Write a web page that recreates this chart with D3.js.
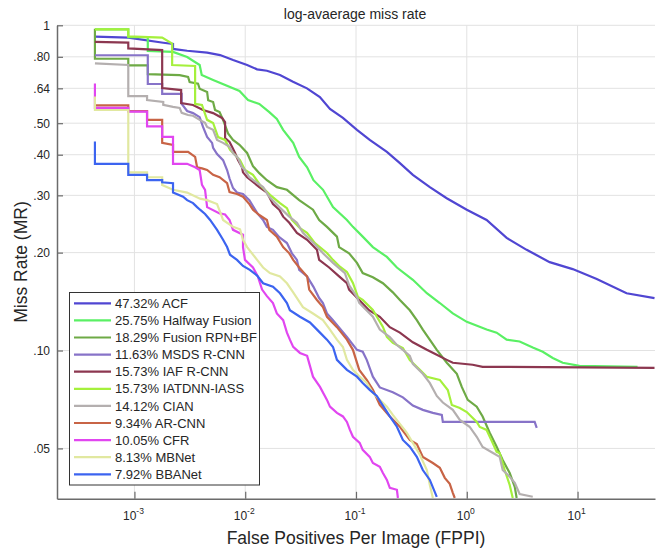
<!DOCTYPE html>
<html>
<head>
<meta charset="utf-8">
<script src="https://cdn.jsdelivr.net/npm/d3@7"></script>
<style>
    body { margin: 0; background: #fff; }
    text { font-family: "Liberation Sans", Arial, sans-serif; fill: #262626; }
</style>
</head>
<body>
<script>
"use strict";

// method names and their log-average miss rates (%)
var methods = ["ACF", "Halfway Fusion", "Fusion RPN+BF", "MSDS R-CNN", "IAF R-CNN",
    "IATDNN-IASS", "CIAN", "AR-CNN", "CFR", "MBNet", "BBANet"];
var logAvgMR = [47.32, 25.75, 18.29, 11.63, 15.73, 15.73, 14.12, 9.34, 10.05, 8.13, 7.92];

var yTicks = [0.05, 0.10, 0.20, 0.30, 0.40, 0.50, 0.64, 0.80, 1];
var yTickLabels = [".05", ".10", ".20", ".30", ".40", ".50", ".64", ".80", "1"];
var xTicks = [1e-3, 1e-2, 1e-1, 1, 10];
var xTickExps = ["-3", "-2", "-1", "0", "1"];

// [FPPI, miss rate]
var acf = [[0.00044,0.923],[0.00088,0.916],[0.00182,0.884],[0.00223,0.876],[0.00223,0.846],[0.00299,0.835],[0.00453,0.824],[0.00593,0.81],[0.00777,0.782],[0.0104,0.755],[0.0128,0.732],[0.0157,0.725],[0.0206,0.703],[0.027,0.671],[0.0361,0.64],[0.0472,0.602],[0.0582,0.553],[0.0762,0.519],[0.102,0.477],[0.133,0.444],[0.19,0.408],[0.249,0.377],[0.326,0.347],[0.464,0.318],[0.659,0.294],[1.0,0.271],[1.51,0.252],[2.29,0.222],[3.47,0.204],[5.6,0.187],[9.03,0.178],[14.9,0.166],[27.7,0.15],[49.5,0.145]];
var halfway = [[0.00044,0.971],[0.00088,0.971],[0.00088,0.92],[0.00132,0.92],[0.00132,0.834],[0.00223,0.828],[0.00299,0.799],[0.00388,0.755],[0.00405,0.703],[0.00513,0.679],[0.00888,0.628],[0.0106,0.589],[0.0134,0.573],[0.0165,0.541],[0.0193,0.515],[0.022,0.477],[0.0271,0.435],[0.0307,0.394],[0.0362,0.366],[0.0413,0.334],[0.0504,0.312],[0.062,0.276],[0.0828,0.252],[0.0938,0.24],[0.115,0.224],[0.142,0.208],[0.19,0.194],[0.234,0.18],[0.326,0.165],[0.436,0.15],[0.571,0.14],[0.748,0.13],[1.0,0.1225],[1.51,0.116],[1.86,0.1135],[2.29,0.108],[3.0,0.1066],[3.94,0.1021],[4.85,0.0991],[5.97,0.0949],[7.34,0.0917],[10.4,0.0897],[34.8,0.0891]];
var fusionRpn = [[0.00044,0.976],[0.00044,0.789],[0.00088,0.789],[0.00088,0.753],[0.00132,0.753],[0.00132,0.708],[0.00182,0.705],[0.00256,0.703],[0.00305,0.694],[0.00315,0.669],[0.00375,0.661],[0.00388,0.638],[0.00453,0.624],[0.00463,0.588],[0.00513,0.581],[0.00534,0.549],[0.00587,0.541],[0.00631,0.512],[0.007,0.465],[0.00776,0.444],[0.00888,0.429],[0.0104,0.405],[0.01175,0.369],[0.0134,0.351],[0.0157,0.334],[0.0193,0.318],[0.0238,0.312],[0.0307,0.29],[0.0409,0.271],[0.0465,0.252],[0.0547,0.24],[0.0673,0.224],[0.0704,0.208],[0.0866,0.199],[0.102,0.186],[0.115,0.173],[0.142,0.168],[0.175,0.161],[0.215,0.151],[0.249,0.143],[0.306,0.133],[0.354,0.124],[0.401,0.116],[0.463,0.108],[0.536,0.1005],[0.66,0.0917],[0.813,0.0848],[0.901,0.0773],[1.02,0.0705],[1.23,0.0672],[1.39,0.0627],[1.61,0.0559],[1.86,0.0506],[2.11,0.0461],[2.44,0.042],[2.71,0.0381],[2.82,0.0352]];
var msds = [[0.00044,0.809],[0.00132,0.809],[0.00132,0.66],[0.00178,0.66],[0.00178,0.615],[0.00267,0.615],[0.00267,0.573],[0.00299,0.545],[0.00338,0.537],[0.00388,0.522],[0.00416,0.487],[0.00453,0.454],[0.00502,0.435],[0.00513,0.42],[0.00557,0.402],[0.00631,0.385],[0.00686,0.359],[0.00722,0.338],[0.00776,0.316],[0.00843,0.306],[0.00955,0.303],[0.0109,0.29],[0.0128,0.265],[0.0145,0.252],[0.0157,0.24],[0.0178,0.235],[0.0203,0.223],[0.0238,0.214],[0.0264,0.199],[0.0293,0.19],[0.0307,0.177],[0.0362,0.169],[0.0413,0.157],[0.0465,0.145],[0.0503,0.14],[0.0547,0.13],[0.062,0.124],[0.0828,0.11],[0.102,0.1005],[0.115,0.0992],[0.125,0.0936],[0.142,0.0831],[0.164,0.077],[0.215,0.0744],[0.265,0.0718],[0.326,0.0677],[0.401,0.0657],[0.494,0.0643],[0.595,0.0634],[0.608,0.0603],[4.1,0.0603],[4.28,0.0578]];
var iaf = [[0.00044,0.889],[0.00088,0.885],[0.00088,0.849],[0.00178,0.839],[0.00178,0.641],[0.00264,0.632],[0.00264,0.577],[0.00338,0.569],[0.00416,0.549],[0.00513,0.537],[0.00618,0.519],[0.00658,0.504],[0.00658,0.45],[0.00722,0.438],[0.0076,0.423],[0.0081,0.405],[0.00861,0.385],[0.00935,0.366],[0.00955,0.353],[0.0104,0.341],[0.0134,0.318],[0.0157,0.306],[0.0178,0.282],[0.0203,0.271],[0.022,0.258],[0.025,0.247],[0.0293,0.23],[0.0362,0.219],[0.0444,0.204],[0.0465,0.19],[0.0572,0.18],[0.0704,0.169],[0.0828,0.161],[0.0866,0.154],[0.107,0.143],[0.131,0.133],[0.164,0.127],[0.202,0.118],[0.249,0.1135],[0.326,0.106],[0.436,0.1005],[0.536,0.097],[0.66,0.0936],[0.748,0.0917],[1.13,0.0904],[1.39,0.0891],[49.5,0.0885]];
var iatdnn = [[0.00044,0.972],[0.00088,0.972],[0.00088,0.924],[0.00178,0.917],[0.00219,0.879],[0.00219,0.755],[0.00353,0.75],[0.00353,0.573],[0.00407,0.569],[0.00453,0.512],[0.00513,0.501],[0.00569,0.453],[0.00658,0.444],[0.0073,0.414],[0.0081,0.399],[0.00897,0.385],[0.00995,0.359],[0.01175,0.347],[0.0136,0.323],[0.01674,0.301],[0.0206,0.284],[0.0238,0.274],[0.0264,0.252],[0.0312,0.238],[0.0361,0.23],[0.0426,0.214],[0.0547,0.1995],[0.0619,0.19],[0.0716,0.181],[0.0828,0.1745],[0.0938,0.1614],[0.104,0.1462],[0.115,0.1431],[0.142,0.1333],[0.175,0.1182],[0.19,0.1101],[0.215,0.1055],[0.265,0.1018],[0.306,0.0935],[0.377,0.0872],[0.436,0.083],[0.571,0.0812],[0.674,0.0756],[0.733,0.068],[0.865,0.0666],[1.0,0.0647],[1.23,0.0603],[1.31,0.0582],[1.51,0.057],[1.71,0.052],[1.86,0.0488],[1.98,0.0484],[2.2,0.0429],[2.44,0.0386],[2.6,0.0352]];
var cian = [[0.00044,0.764],[0.00088,0.755],[0.00088,0.606],[0.0013,0.606],[0.0013,0.589],[0.00182,0.581],[0.00182,0.569],[0.00223,0.561],[0.00256,0.557],[0.00267,0.538],[0.00305,0.53],[0.00338,0.527],[0.00388,0.512],[0.00434,0.501],[0.00453,0.487],[0.00513,0.477],[0.00557,0.444],[0.00631,0.435],[0.00722,0.423],[0.00776,0.405],[0.00861,0.391],[0.00935,0.366],[0.00995,0.359],[0.0109,0.341],[0.0145,0.318],[0.0165,0.297],[0.0203,0.276],[0.025,0.258],[0.0293,0.247],[0.0332,0.23],[0.0413,0.214],[0.0504,0.199],[0.062,0.186],[0.0794,0.173],[0.0866,0.159],[0.102,0.146],[0.107,0.14],[0.142,0.127],[0.164,0.116],[0.202,0.11],[0.234,0.104],[0.265,0.1005],[0.306,0.0963],[0.326,0.091],[0.401,0.0848],[0.463,0.0795],[0.536,0.0725],[0.608,0.0692],[0.748,0.0657],[0.865,0.0612],[1.06,0.0583],[1.23,0.0543],[1.39,0.0505],[1.71,0.0485],[1.98,0.0471],[2.11,0.0429],[2.44,0.0409],[2.71,0.0392],[3.0,0.0362],[3.94,0.0355]];
var arCnn = [[0.00044,0.567],[0.00088,0.567],[0.00088,0.545],[0.0013,0.545],[0.0013,0.512],[0.00178,0.512],[0.00178,0.435],[0.00223,0.429],[0.00223,0.408],[0.00305,0.408],[0.00353,0.394],[0.00368,0.366],[0.00407,0.363],[0.00453,0.359],[0.00513,0.347],[0.00587,0.341],[0.00686,0.327],[0.00722,0.307],[0.00843,0.303],[0.00955,0.297],[0.0109,0.282],[0.01175,0.271],[0.0134,0.261],[0.0157,0.252],[0.0165,0.235],[0.0193,0.224],[0.022,0.208],[0.025,0.199],[0.0271,0.19],[0.0307,0.18],[0.0362,0.169],[0.0378,0.154],[0.0444,0.143],[0.0503,0.136],[0.0547,0.127],[0.0673,0.118],[0.0828,0.108],[0.0938,0.1005],[0.107,0.0872],[0.125,0.0813],[0.142,0.0757],[0.164,0.0681],[0.202,0.0627],[0.249,0.0583],[0.306,0.0531],[0.354,0.0516],[0.401,0.0471],[0.494,0.0451],[0.571,0.0436],[0.633,0.0406],[0.702,0.0389],[0.748,0.0365],[0.779,0.0352]];
var cfr = [[0.00044,0.662],[0.00044,0.557],[0.00088,0.557],[0.00088,0.543],[0.0013,0.543],[0.0013,0.489],[0.00178,0.489],[0.00178,0.454],[0.00223,0.454],[0.00223,0.375],[0.00299,0.375],[0.00353,0.366],[0.00388,0.359],[0.00407,0.323],[0.00434,0.312],[0.00453,0.276],[0.00587,0.264],[0.00658,0.262],[0.00722,0.252],[0.00776,0.235],[0.00955,0.227],[0.00955,0.208],[0.00995,0.19],[0.01175,0.18],[0.013,0.169],[0.0136,0.161],[0.0142,0.154],[0.0157,0.147],[0.0178,0.14],[0.0193,0.13],[0.022,0.124],[0.0238,0.1135],[0.0253,0.108],[0.0271,0.1026],[0.0312,0.0983],[0.0362,0.0963],[0.0384,0.0897],[0.0409,0.0831],[0.0473,0.0773],[0.0547,0.0705],[0.0582,0.0672],[0.0673,0.0643],[0.0762,0.0627],[0.0828,0.0603],[0.0881,0.057],[0.0938,0.0543],[0.108,0.052],[0.115,0.0495],[0.133,0.0471],[0.142,0.0451],[0.164,0.0439],[0.175,0.042],[0.19,0.04],[0.202,0.0378],[0.234,0.0373],[0.239,0.0352]];
var mbnet = [[0.00044,0.604],[0.00044,0.549],[0.00088,0.549],[0.00088,0.353],[0.0013,0.353],[0.0013,0.341],[0.00178,0.341],[0.00178,0.323],[0.00223,0.312],[0.00299,0.306],[0.00391,0.293],[0.00453,0.29],[0.00557,0.282],[0.00593,0.267],[0.00631,0.252],[0.00776,0.24],[0.00898,0.236],[0.00955,0.219],[0.0104,0.208],[0.0128,0.19],[0.0145,0.18],[0.0167,0.173],[0.0206,0.169],[0.0238,0.161],[0.0271,0.151],[0.0332,0.136],[0.0409,0.13],[0.0503,0.124],[0.0582,0.116],[0.0673,0.108],[0.0762,0.1025],[0.0828,0.0936],[0.0938,0.0872],[0.108,0.0831],[0.125,0.0795],[0.142,0.0741],[0.164,0.0705],[0.19,0.0672],[0.215,0.0634],[0.249,0.0595],[0.288,0.0558],[0.326,0.052],[0.377,0.0478],[0.436,0.0429],[0.464,0.0386],[0.494,0.0352]];
var bbanet = [[0.00044,0.439],[0.00044,0.375],[0.00088,0.375],[0.00088,0.347],[0.0013,0.347],[0.0013,0.334],[0.00178,0.334],[0.00178,0.329],[0.00223,0.327],[0.00223,0.306],[0.00275,0.297],[0.00299,0.29],[0.00338,0.284],[0.00368,0.276],[0.00391,0.271],[0.00434,0.263],[0.00482,0.252],[0.00557,0.235],[0.00631,0.219],[0.00686,0.208],[0.00729,0.197],[0.00843,0.19],[0.00955,0.182],[0.011,0.177],[0.0128,0.17],[0.0145,0.161],[0.0178,0.157],[0.0206,0.15],[0.0238,0.14],[0.0253,0.133],[0.0312,0.127],[0.0384,0.122],[0.0473,0.1135],[0.0547,0.108],[0.062,0.1025],[0.0673,0.0936],[0.0828,0.0872],[0.102,0.0831],[0.115,0.0795],[0.133,0.0757],[0.154,0.0725],[0.175,0.0677],[0.202,0.0627],[0.234,0.0583],[0.265,0.0531],[0.306,0.0506],[0.354,0.0471],[0.401,0.0429],[0.464,0.04],[0.536,0.0355]];

var curves = [acf, halfway, fusionRpn, msds, iaf, iatdnn, cian, arCnn, cfr, mbnet, bbanet];
var colors = ["#5046d2", "#5af064", "#6eaa46", "#8773c8", "#8c3750", "#a5f03c",
    "#b4afaf", "#c86446", "#e146f0", "#e1e8a0", "#3c64f0"];

function init() {
    var w = 656;
    var h = 548;
    var left = 57, right = 655, top = 25.3, bottom = 498.8;

    var xScale = d3.scaleLog()
        .domain([2e-4, 50])
        .range([left, right]);

    var yScale = d3.scaleLog()
        .domain([0.035, 1])
        .range([bottom, top]);

    var svg = d3.select("body")
        .append("svg")
        .attr("width", w)
        .attr("height", h);

    svg.append("defs").append("clipPath")
        .attr("id", "plotClip")
        .append("rect")
        .attr("x", left)
        .attr("y", top - 2)
        .attr("width", right - left)
        .attr("height", bottom - top + 2);

    //Grid lines
    svg.append("g")
        .selectAll("line")
        .data(xTicks)
        .enter()
        .append("line")
        .attr("x1", function (d) { return xScale(d); })
        .attr("x2", function (d) { return xScale(d); })
        .attr("y1", top)
        .attr("y2", bottom)
        .attr("stroke", "#e2e2e2")
        .attr("stroke-width", 1);

    svg.append("g")
        .selectAll("line")
        .data(yTicks)
        .enter()
        .append("line")
        .attr("x1", left)
        .attr("x2", right)
        .attr("y1", function (d) { return yScale(d); })
        .attr("y2", function (d) { return yScale(d); })
        .attr("stroke", "#e2e2e2")
        .attr("stroke-width", 1);

    //Curves
    var line = d3.line()
        .x(function (d) { return xScale(d[0]); })
        .y(function (d) { return yScale(d[1]); });

    svg.append("g")
        .attr("clip-path", "url(#plotClip)")
        .selectAll("path")
        .data(curves)
        .enter()
        .append("path")
        .attr("d", line)
        .attr("fill", "none")
        .attr("stroke", function (d, i) { return colors[i]; })
        .attr("stroke-width", 2.2)
        .attr("stroke-linejoin", "miter");

    //Axes, ticks pointing inward
    var xAxis = d3.axisBottom(xScale)
        .tickValues(xTicks)
        .tickSizeInner(-7)
        .tickSizeOuter(0)
        .tickFormat("");

    var gx = svg.append("g")
        .attr("transform", "translate(0," + bottom + ")")
        .call(xAxis);

    var yAxis = d3.axisLeft(yScale)
        .tickValues(yTicks)
        .tickSizeInner(-6)
        .tickSizeOuter(0)
        .tickPadding(7)
        .tickFormat(function (d, i) { return yTickLabels[i]; });

    var gy = svg.append("g")
        .attr("transform", "translate(" + left + ",0)")
        .call(yAxis);

    [gx, gy].forEach(function (g) {
        g.select(".domain").attr("stroke", "#6b6b6b").attr("stroke-width", 1.5);
        g.selectAll(".tick line").attr("stroke", "#6b6b6b").attr("stroke-width", 1.2);
    });

    gy.selectAll(".tick text")
        .attr("font-size", 12)
        .attr("font-family", "Liberation Sans, Arial, sans-serif")
        .attr("fill", "#262626");

    //x tick labels as powers of ten
    var xLabels = svg.append("g")
        .selectAll("text")
        .data(xTicks)
        .enter()
        .append("text")
        .attr("x", function (d) { return xScale(d) - 1; })
        .attr("y", 520)
        .attr("text-anchor", "middle")
        .attr("font-size", 12);

    xLabels.append("tspan").text("10");
    xLabels.append("tspan")
        .attr("font-size", 8.5)
        .attr("dy", -6)
        .text(function (d, i) { return xTickExps[i]; });

    //Title and axis labels
    svg.append("text")
        .attr("x", 355)
        .attr("y", 19)
        .attr("text-anchor", "middle")
        .attr("font-size", 14)
        .text("log-avaerage miss rate");

    svg.append("text")
        .attr("x", (left + right) / 2)
        .attr("y", 544)
        .attr("text-anchor", "middle")
        .attr("font-size", 17.5)
        .text("False Positives Per Image (FPPI)");

    svg.append("text")
        .attr("transform", "translate(27," + ((top + bottom) / 2) + ") rotate(-90)")
        .attr("text-anchor", "middle")
        .attr("font-size", 17.5)
        .text("Miss Rate (MR)");

    //Legend
    var legend = svg.append("g");
    var rowY = d3.scaleLinear()
        .domain([0, methods.length - 1])
        .range([303.3, 474.3]);

    legend.append("rect")
        .attr("x", 69.5)
        .attr("y", 292.5)
        .attr("width", 190)
        .attr("height", 192.5)
        .attr("fill", "#fff")
        .attr("stroke", "#333")
        .attr("stroke-width", 1);

    var rows = legend.selectAll("g.row")
        .data(methods)
        .enter()
        .append("g")
        .attr("class", "row")
        .attr("transform", function (d, i) { return "translate(0," + rowY(i) + ")"; });

    rows.append("line")
        .attr("x1", 74)
        .attr("x2", 111)
        .attr("y1", 0)
        .attr("y2", 0)
        .attr("stroke", function (d, i) { return colors[i]; })
        .attr("stroke-width", 2.2);

    rows.append("text")
        .attr("x", 115)
        .attr("y", 4.6)
        .attr("font-size", 13)
        .text(function (d, i) { return logAvgMR[i].toFixed(2) + "% " + d; });
}

window.onload = init;
</script>
</body>
</html>
